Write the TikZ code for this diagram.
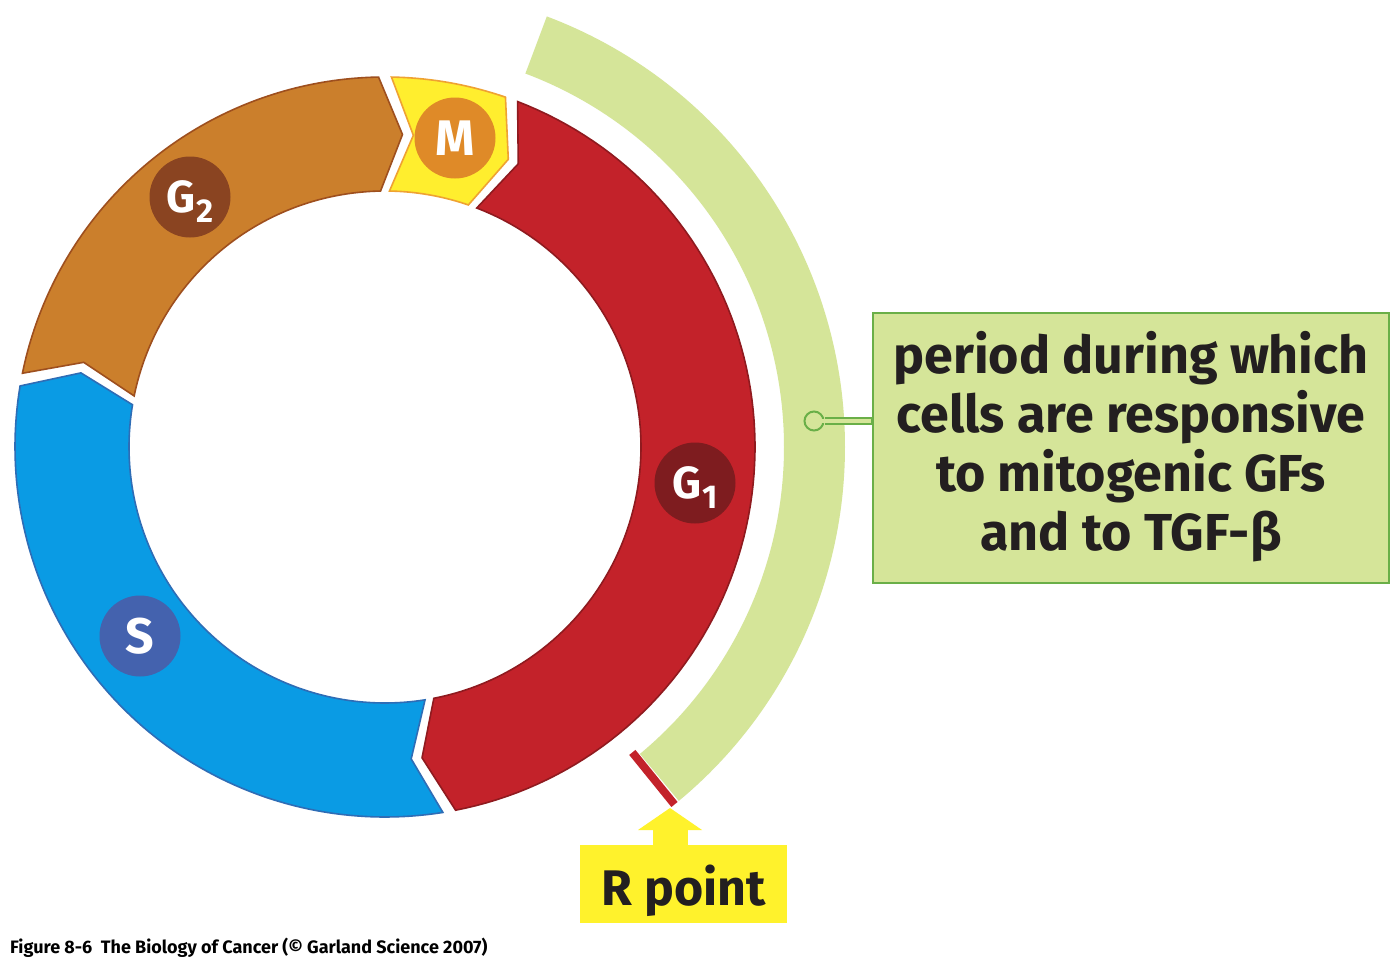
\documentclass[tikz,border=0pt]{standalone}
\usepackage{fontspec}
\setmainfont{Fira Sans}
\usetikzlibrary{arrows.meta}
\definecolor{gonered}{HTML}{C3222A}
\definecolor{goneline}{HTML}{8F1A1F}
\definecolor{gonebadge}{HTML}{7E1C1F}
\definecolor{sblue}{HTML}{0A9BE4}
\definecolor{sline}{HTML}{2E6DB6}
\definecolor{sbadge}{HTML}{4462AE}
\definecolor{gtwo}{HTML}{CB7F2C}
\definecolor{gtwoline}{HTML}{9E4F1E}
\definecolor{gtwobadge}{HTML}{8A4421}
\definecolor{myellow}{HTML}{FFEE2E}
\definecolor{mline}{HTML}{EFA232}
\definecolor{mbadge}{HTML}{DF8A28}
\definecolor{lgreen}{HTML}{D5E599}
\definecolor{bgreen}{HTML}{6AAF48}
\definecolor{ryellow}{HTML}{FFF22C}
\definecolor{ink}{HTML}{231F20}
\newcommand\ringseg[3]{%
  \path[#3] plot[domain=#1:#2,samples=90] (\x:370) -- (#2+4.2:313) -- (#2:256)
    -- plot[domain=#2:#1,samples=90] (\x:256) -- (#1+4.2:313) -- cycle;}
\begin{document}
\begin{tikzpicture}[x=1pt,y=-1pt,
  seg/.style={line width=1.6pt, line join=miter},
  badge/.style={circle, inner sep=0pt, minimum size=81pt, text=white,
    font=\bfseries\fontsize{50pt}{50pt}\selectfont},
  gbadge/.style={badge, font=\bfseries\fontsize{45pt}{45pt}\selectfont},
  infobox/.style={draw=bgreen, fill=lgreen, line width=2.4pt, inner sep=0pt,
    minimum width=516pt, align=center, text=ink,
    font=\bfseries\fontsize{52pt}{59pt}\selectfont},
  rbox/.style={fill=ryellow, inner sep=0pt, minimum width=207pt, text=ink,
    font=\bfseries\fontsize{50pt}{50pt}\selectfont}]
\useasboundingbox[fill=white] (0,0) rectangle (1400,961);
\begin{scope}[shift={(385,447)}]
  % responsive period arc
  \fill[lgreen] plot[domain=-69.4:50.3,samples=120] (\x:460)
    -- plot[domain=50.3:-69.4,samples=120] (\x:399) -- cycle;
  % ring segments
  \ringseg{291}{439}{seg, fill=gonered, draw=goneline}
  \ringseg{81}{189.5}{seg, fill=sblue, draw=sline}
  \ringseg{191.5}{269}{seg, fill=gtwo, draw=gtwoline}
  \ringseg{271}{289}{seg, fill=myellow, draw=mline}
  % R point tick
  \draw[gonered, line width=8pt] (51:393) -- (51:460);
\end{scope}
% badges
\node[gbadge, fill=gonebadge] (gone) at (695,483) {G\kern1pt\smash{\raisebox{-10pt}{\fontsize{33pt}{33pt}\selectfont 1}}};
\node[gbadge, fill=gtwobadge] (gtwo) at (190,197) {G\kern1pt\smash{\raisebox{-10pt}{\fontsize{33pt}{33pt}\selectfont 2}}};
\node[badge, fill=sbadge] (s) at (140,636) {S};
\node[badge, fill=mbadge] (m) at (455,138) {M};
% info box and connector
\node[infobox, text height=237pt, text depth=33pt] (box) at (1131,448)
  {period during which\\cells are responsive\\to mitogenic GFs\\and to TGF-β};
\node[circle, draw=bgreen, fill=lgreen, line width=2pt, minimum size=19pt, inner sep=0pt] (cdot) at (814,421) {};
\draw[bgreen, line width=8pt] (cdot.east) -- (cdot.east -| box.west);
\draw[lgreen, line width=4pt] (cdot.center) -- ([xshift=-1.3pt]cdot.east -| box.west);
% R point
\node[rbox, text height=60pt, text depth=18pt] (rp) at (683.5,884) {R point};
\coordinate (rtip) at (670,808);
\draw[ryellow, line width=35pt, -{Triangle[width=64pt,length=22pt,line width=0pt]}] (rtip |- rp.north) -- (rtip);
% footer
\node[anchor=base west, inner sep=0pt, text=black, font=\bfseries\fontsize{18pt}{18pt}\selectfont] (cap) at (10,953)
  {Figure 8-6\ \ The Biology of Cancer (© Garland Science 2007)};
\end{tikzpicture}
\end{document}
